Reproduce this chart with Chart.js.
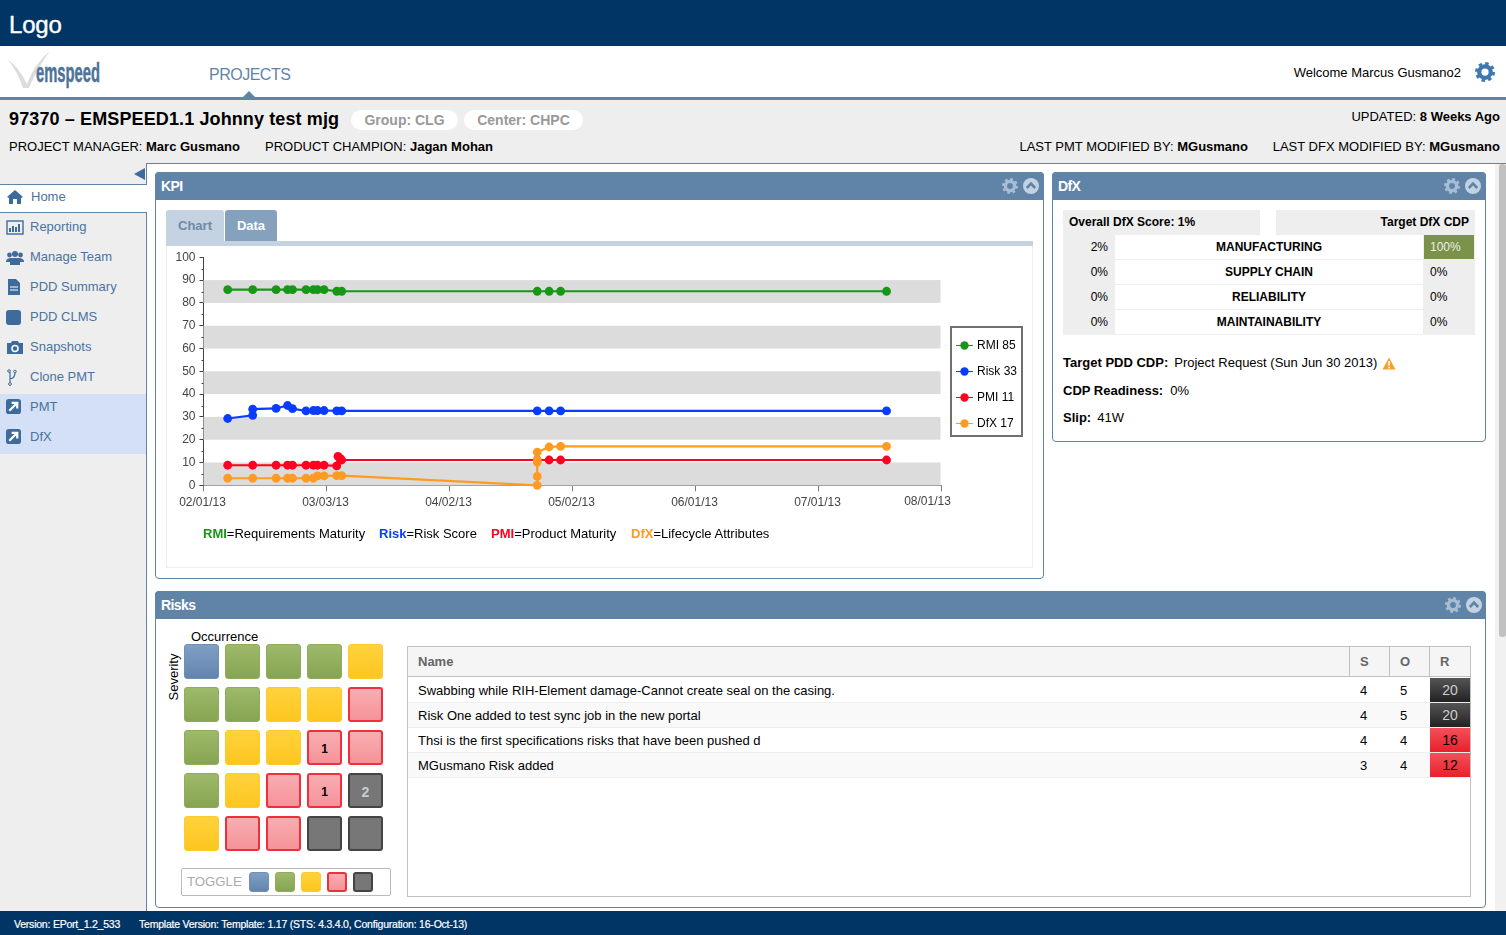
<!DOCTYPE html>
<html>
<head>
<meta charset="utf-8">
<title>KPI</title>
<script src="https://cdn.jsdelivr.net/npm/chart.js@4"></script>
<style>
html, body { margin: 0; padding: 0; width: 1506px; height: 935px; overflow: hidden; background: #fff; font-family: "Liberation Sans", Arial, sans-serif; font-size: 13px; color: #000; }
.abs, .t { position: absolute; }
.t { white-space: nowrap; line-height: 16px; }
b { font-weight: bold; }
.panel { position: absolute; border: 1px solid #5f84a8; border-radius: 4px; background: #fff; box-sizing: border-box; }
.phead { position: absolute; left: -1px; right: -1px; top: -1px; height: 28px; background: #5f84a8; border-radius: 4px 4px 0 0; color: #fff; font-weight: bold; font-size: 14px; line-height: 28px; padding-left: 6px; letter-spacing: -.6px; }
.side { color: #4a73a0; font-size: 13px; left: 30px; }
.cell { position: absolute; width: 35px; height: 35px; box-sizing: border-box; border-radius: 3px; text-align: center; font-weight: bold; font-size: 12px; line-height: 35px; }
.c1 { background: linear-gradient(#7f9fc4, #6385ad); border: 1px solid #6f90b6; }
.c2 { background: linear-gradient(#9db96a, #86a552); border: 1px solid #8fac5a; }
.c3 { background: linear-gradient(#ffd23c, #fdc620); border: 1px solid #fdcb2c; }
.c4 { background: linear-gradient(#f8aeb2, #f59398); border: 2px solid #ee2f3c; line-height: 34px; }
.c5 { background: #777; border: 2px solid #444; color: #ccc; font-size: 14px; line-height: 34px; }
.row { position: absolute; left: 408px; width: 1062px; height: 25px; box-sizing: border-box; border-bottom: 1px solid #eee; }
.rcell { position: absolute; left: 1430px; width: 40px; height: 24px; text-align: center; line-height: 25px; font-size: 14px; }
.gear { position: absolute; width: 16px; height: 16px; }
</style>
</head>
<body>
<svg width="0" height="0" style="position:absolute">
  <symbol id="gear" viewBox="0 0 16 16"><circle cx="8" cy="8" r="4.6" fill="none" stroke="currentColor" stroke-width="3.4"/><circle cx="8" cy="8" r="6.8" fill="none" stroke="currentColor" stroke-width="2.4" stroke-dasharray="2.7 2.64"/></symbol>
  <symbol id="up" viewBox="0 0 16 16"><circle cx="8" cy="8" r="8" fill="currentColor"/><path d="M3.8 10 L8 5.6 L12.2 10" fill="none" stroke="#5f84a8" stroke-width="2.6"/></symbol>
  <symbol id="ext" viewBox="0 0 16 16"><rect width="16" height="16" rx="3" fill="#3d6b9c"/><path d="M3.5 12.5 L11 5 M6 4 H12 V10" fill="none" stroke="#fff" stroke-width="2.4"/></symbol>
</svg>

<!-- top bars -->
<div class="abs" style="left:0;top:0;width:1506px;height:46px;background:#003566"></div>
<div class="t" style="left:9px;top:11px;font-size:24px;line-height:28px;color:#fff;letter-spacing:-.2px;-webkit-text-stroke:.4px #fff">Logo</div>
<svg class="abs" style="left:6px;top:48px" width="46" height="44">
  <path d="M2 12 Q12 18 21 36 Q28 16 44 3 Q30 22 23 40 L17 40 Q12 24 2 12 Z" fill="#dcdcdc"/>
</svg>
<div class="t" style="left:36px;top:58px;font-size:27px;line-height:30px;font-weight:bold;color:#4f7299;-webkit-text-stroke:.5px #4f7299;transform-origin:0 0;transform:scaleX(.547)">emspeed</div>
<div class="t" style="left:209px;top:66px;font-size:16px;line-height:18px;color:#5f84a8;letter-spacing:-.5px">PROJECTS</div>
<div class="t" style="right:45px;top:65px">Welcome Marcus Gusmano2</div>
<svg class="gear" style="left:1475px;top:62px;width:20px;height:20px;color:#3d78b4"><use href="#gear"/></svg>
<div class="abs" style="left:0;top:97px;width:1506px;height:3px;background:#5f84a8"></div>
<div class="abs" style="left:243px;top:91px;width:0;height:0;border-left:6px solid transparent;border-right:6px solid transparent;border-bottom:6px solid #5f84a8"></div>

<!-- project header -->
<div class="abs" style="left:0;top:100px;width:1506px;height:64px;background:#eee"></div>
<div class="t" style="left:9px;top:108px;font-size:18px;line-height:22px;font-weight:bold;letter-spacing:.12px">97370 – EMSPEED1.1 Johnny test mjg</div>
<div class="t" style="left:351px;top:110px;width:107px;height:20px;background:#fff;border-radius:10px;text-align:center;font-size:14px;line-height:20px;font-weight:bold;color:#999">Group: CLG</div>
<div class="t" style="left:464px;top:110px;width:119px;height:20px;background:#fff;border-radius:10px;text-align:center;font-size:14px;line-height:20px;font-weight:bold;color:#999">Center: CHPC</div>
<div class="t" style="left:9px;top:139px">PROJECT MANAGER: <b>Marc Gusmano</b></div>
<div class="t" style="left:265px;top:139px">PRODUCT CHAMPION: <b>Jagan Mohan</b></div>
<div class="t" style="right:6px;top:109px">UPDATED: <b>8 Weeks Ago</b></div>
<div class="t" style="right:258px;top:139px">LAST PMT MODIFIED BY: <b>MGusmano</b></div>
<div class="t" style="right:6px;top:139px">LAST DFX MODIFIED BY: <b>MGusmano</b></div>

<!-- sidebar -->
<div class="abs" style="left:0;top:164px;width:146px;height:747px;background:#eee;border-right:1px solid #5f84a8"></div>
<div class="abs" style="left:146px;top:163px;width:1360px;height:1px;background:#5f84a8"></div>
<div class="abs" style="left:134px;top:168px;width:0;height:0;border-top:6px solid transparent;border-bottom:6px solid transparent;border-right:11px solid #3d6b9c"></div>
<div class="abs" style="left:0;top:184px;width:147px;height:29px;background:#fff;border-top:1px solid #5f84a8;border-bottom:1px solid #5f84a8;box-sizing:border-box"></div>
<div class="abs" style="left:0;top:394px;width:146px;height:60px;background:#d3e0f5"></div>
<div id="sideNav"></div>

<!-- scrollbar -->
<div class="abs" style="left:1495px;top:164px;width:11px;height:747px;background:#f1f1f1"></div>
<div class="abs" style="left:1499px;top:164px;width:7px;height:473px;background:#c1c1c1;border-radius:3px"></div>

<!-- KPI panel -->
<div class="panel" style="left:155px;top:172px;width:889px;height:407px"><div class="phead">KPI</div></div>
<svg class="gear" style="left:1002px;top:178px;color:#a9bdd2"><use href="#gear"/></svg>
<svg class="gear" style="left:1023px;top:178px;color:#c3d1e0"><use href="#up"/></svg>
<div class="t" style="left:166px;top:210px;width:58px;height:31px;background:#c5d2e1;border-radius:3px 3px 0 0;text-align:center;line-height:31px;font-weight:bold;color:#6d8aa8">Chart</div>
<div class="t" style="left:225px;top:210px;width:52px;height:31px;background:#84a1bd;border-radius:3px 3px 0 0;text-align:center;line-height:31px;font-weight:bold;color:#fff">Data</div>
<div class="abs" style="left:166px;top:241px;width:867px;height:5px;background:#c5d2e1"></div>
<div class="abs" style="left:166px;top:246px;width:867px;height:322px;border:1px solid #eee;border-top:0;box-sizing:border-box"></div>
<canvas id="kpiChart" class="abs" style="left:166px;top:246px" width="866" height="320"></canvas>
<div class="t" style="left:203px;top:526px"><b style="color:#169716">RMI</b>=Requirements Maturity</div>
<div class="t" style="left:379px;top:526px"><b style="color:#0a3cff">Risk</b>=Risk Score</div>
<div class="t" style="left:491px;top:526px"><b style="color:#ff0020">PMI</b>=Product Maturity</div>
<div class="t" style="left:631px;top:526px"><b style="color:#ff9a22">DfX</b>=Lifecycle Attributes</div>

<!-- DfX panel -->
<div class="panel" style="left:1052px;top:172px;width:434px;height:270px"><div class="phead">DfX</div></div>
<svg class="gear" style="left:1444px;top:178px;color:#a9bdd2"><use href="#gear"/></svg>
<svg class="gear" style="left:1465px;top:178px;color:#c3d1e0"><use href="#up"/></svg>
<div class="t" style="left:1063px;top:210px;width:191px;height:25px;line-height:25px;background:#eee;padding-left:6px;font-size:12px;font-weight:bold">Overall DfX Score: 1%</div>
<div class="t" style="left:1276px;top:210px;width:193px;height:25px;line-height:25px;background:#eee;padding-right:6px;text-align:right;font-size:12px;font-weight:bold">Target DfX CDP</div>
<div id="dfxRows"></div>
<div class="t" style="left:1063px;top:355px"><b>Target PDD CDP:</b><span style="margin-left:6px">Project Request (Sun Jun 30 2013)</span></div>
<svg class="abs" style="left:1382px;top:357px" width="14" height="13"><path d="M7 0.5 L13.5 12.5 H0.5 Z" fill="#f9a02c"/><path d="M7 4 V8.6 M7 9.8 V11.4" stroke="#fff" stroke-width="1.6"/></svg>
<div class="t" style="left:1063px;top:383px"><b>CDP Readiness:</b><span style="margin-left:7px">0%</span></div>
<div class="t" style="left:1063px;top:410px"><b>Slip:</b><span style="margin-left:6px">41W</span></div>

<!-- Risks panel -->
<div class="panel" style="left:155px;top:591px;width:1331px;height:317px"><div class="phead">Risks</div></div>
<svg class="gear" style="left:1445px;top:597px;color:#a9bdd2"><use href="#gear"/></svg>
<svg class="gear" style="left:1466px;top:597px;color:#c3d1e0"><use href="#up"/></svg>
<div class="t" style="left:191px;top:629px">Occurrence</div>
<div class="t" style="left:146px;top:669px;width:56px;text-align:center;transform:rotate(-90deg)">Severity</div>
<div id="matrix"></div>
<div class="abs" style="left:181px;top:868px;width:210px;height:28px;border:1px solid #bbb;border-radius:2px;box-sizing:border-box"></div>
<div class="t" style="left:187px;top:874px;font-size:13.2px;color:#aaa">TOGGLE</div>
<div id="toggle"></div>

<div class="abs" style="left:407px;top:646px;width:1064px;height:251px;border:1px solid #c0c0c0;box-sizing:border-box"></div>
<div class="abs" style="left:408px;top:647px;width:1062px;height:30px;background:#f5f5f5;border-bottom:1px solid #c0c0c0;box-sizing:border-box"></div>
<div class="abs" style="left:1349px;top:647px;width:1px;height:30px;background:#c0c0c0"></div>
<div class="abs" style="left:1389px;top:647px;width:1px;height:30px;background:#c0c0c0"></div>
<div class="abs" style="left:1429px;top:647px;width:1px;height:30px;background:#c0c0c0"></div>
<div class="t" style="left:418px;top:654px;font-weight:bold;color:#666">Name</div>
<div class="t" style="left:1360px;top:654px;font-weight:bold;color:#666">S</div>
<div class="t" style="left:1400px;top:654px;font-weight:bold;color:#666">O</div>
<div class="t" style="left:1440px;top:654px;font-weight:bold;color:#666">R</div>
<div id="riskRows"></div>

<!-- footer -->
<div class="abs" style="left:0;top:911px;width:1506px;height:24px;background:#003566"></div>
<div class="t" style="left:14px;top:917px;font-size:10.5px;line-height:14px;color:#fff;letter-spacing:-.22px;-webkit-text-stroke:.2px #fff">Version: EPort_1.2_533</div>
<div class="t" style="left:139px;top:917px;font-size:10.5px;line-height:14px;color:#fff;letter-spacing:-.22px;-webkit-text-stroke:.2px #fff">Template Version: Template: 1.17 (STS: 4.3.4.0, Configuration: 16-Oct-13)</div>

<script>
// page furniture
const sideItems = ['Reporting', 'Manage Team', 'PDD Summary', 'PDD CLMS', 'Snapshots', 'Clone PMT', 'PMT', 'DfX']
const icons = {
    'Reporting': '<rect x="1" y="2" width="16" height="13" fill="none" stroke="#3d6b9c" stroke-width="1.4"/><path d="M4 13V9M7 13V7M10 13V8M13 13V5" stroke="#3d6b9c" stroke-width="2"/>',
    'Manage Team': '<circle cx="9" cy="5" r="3" fill="#3d6b9c"/><circle cx="3.5" cy="6" r="2.4" fill="#3d6b9c"/><circle cx="14.5" cy="6" r="2.4" fill="#3d6b9c"/><path d="M0 12Q1 9 5 9H13Q17 9 18 12V13H14V16H4V13H0Z" fill="#3d6b9c"/>',
    'PDD Summary': '<path d="M2 0H10L14 4V16H2Z" fill="#3d6b9c"/><path d="M4 8H12M4 11H12" stroke="#fff"/>',
    'PDD CLMS': '<rect x="0" y="1" width="15" height="15" rx="3" fill="#3d6b9c"/>',
    'Snapshots': '<path d="M1 4H5L6 2H12L13 4H17V15H1Z" fill="#3d6b9c"/><circle cx="9" cy="9.5" r="3" fill="none" stroke="#fff" stroke-width="1.6"/>',
    'Clone PMT': '<circle cx="4" cy="15" r="1.4" fill="none" stroke="#3d6b9c"/><path d="M4 13.5V3M4 10Q9 9 9 4" fill="none" stroke="#3d6b9c" stroke-width="1.2"/><circle cx="3" cy="2" r="1.3" fill="none" stroke="#3d6b9c"/><circle cx="9" cy="2.5" r="1.3" fill="none" stroke="#3d6b9c"/>',
    'PMT': '<use href="#ext" width="15" height="15"/>',
    'DfX': '<use href="#ext" width="15" height="15"/>'
}
let navHtml = '<svg class="abs" style="left:7px;top:190px" width="16" height="14"><path d="M0 7L8 0L16 7L14 8V14H10V9H6V14H2V8Z" fill="#3d6b9c"/></svg><div class="t side" style="left:31px;top:189px">Home</div>'
sideItems.forEach((name, i) => {
    const y = 219 + i * 30
    navHtml += `<svg class="abs" style="left:6px;top:${y}px" width="18" height="17">${icons[name]}</svg><div class="t side" style="top:${y}px">${name}</div>`
})
document.getElementById('sideNav').innerHTML = navHtml

const dfxRows = [
    ['2%', 'MANUFACTURING', '100%'],
    ['0%', 'SUPPLY CHAIN', '0%'],
    ['0%', 'RELIABILITY', '0%'],
    ['0%', 'MAINTAINABILITY', '0%']
]
let dfxHtml = ''
dfxRows.forEach((r, i) => {
    const y = 235 + i * 25
    const green = r[2] === '100%'
    dfxHtml += `<div class="abs" style="left:1063px;top:${y}px;width:412px;height:25px;background:#eee"></div>
    <div class="abs" style="left:1115px;top:${y}px;width:308px;height:24px;background:#fff"></div>
    <div class="t" style="left:1063px;top:${y + 4}px;width:45px;text-align:right;font-size:12px">${r[0]}</div>
    <div class="t" style="left:1115px;top:${y + 4}px;width:308px;text-align:center;font-size:12px;font-weight:bold">${r[1]}</div>
    ${green ? `<div class="abs" style="left:1424px;top:${y}px;width:50px;height:24px;background:#7a9249"></div>` : ''}
    <div class="t" style="left:1430px;top:${y + 4}px;font-size:12px;color:${green ? '#eee' : '#000'}">${r[2]}</div>`
})
document.getElementById('dfxRows').innerHTML = dfxHtml

const matrix = [
    [1, 2, 2, 2, 3],
    [2, 2, 3, 3, 4],
    [2, 3, 3, 4, 4],
    [2, 3, 4, 4, 5],
    [3, 4, 4, 5, 5]
]
const matrixCounts = { '2,3': 1, '3,3': 1, '3,4': 2 }
let matrixHtml = ''
matrix.forEach((row, r) => row.forEach((c, col) => {
    matrixHtml += `<div class="cell c${c}" style="left:${184 + col * 41}px;top:${644 + r * 43}px">${matrixCounts[r + ',' + col] || ''}</div>`
}))
document.getElementById('matrix').innerHTML = matrixHtml

let toggleHtml = ''
for (let i = 0; i < 5; i++) {
    toggleHtml += `<div class="cell c${i + 1}" style="left:${249 + i * 26}px;top:872px;width:20px;height:20px"></div>`
}
document.getElementById('toggle').innerHTML = toggleHtml

const risks = [
    ['Swabbing while RIH-Element damage-Cannot create seal on the casing.', 4, 5, 20],
    ['Risk One added to test sync job in the new portal', 4, 5, 20],
    ['Thsi is the first specifications risks that have been pushed d', 4, 4, 16],
    ['MGusmano Risk added', 3, 4, 12]
]
let riskHtml = ''
risks.forEach((r, i) => {
    const y = 678 + i * 25
    const dark = r[3] >= 20
    riskHtml += `<div class="row" style="top:${y}px;background:${i % 2 ? '#f9f9f9' : '#fff'}"></div>
    <div class="t" style="left:418px;top:${y + 5}px">${r[0]}</div>
    <div class="t" style="left:1360px;top:${y + 5}px">${r[1]}</div>
    <div class="t" style="left:1400px;top:${y + 5}px">${r[2]}</div>
    <div class="rcell" style="top:${y}px;background:linear-gradient(${dark ? '#555,#222' : '#f4505a,#e8202a'});color:${dark ? '#ccc' : '#000'}">${r[3]}</div>`
})
document.getElementById('riskRows').innerHTML = riskHtml

// KPI chart, x is days since 02/01/13
const rmi = [[5.9, 85.8], [12, 85.8], [17.7, 85.8], [20.5, 85.8], [21.7, 85.8], [25, 85.8], [26.8, 85.8], [27.8, 85.8], [29.4, 85.8], [32.5, 85.1], [33.7, 85.1], [81.4, 85.1], [84.3, 85.1], [87.1, 85.1], [166.6, 85.1]]
const risk = [[5.9, 29.3], [12, 30.7], [12, 33.4], [17.7, 33.7], [20.5, 35], [21.7, 33.6], [25, 32.6], [26.8, 32.8], [27.8, 32.8], [29.4, 32.8], [32.5, 32.6], [33.7, 32.6], [81.4, 32.6], [84.3, 32.6], [87.1, 32.6], [166.6, 32.6]]
const pmi = [[5.9, 8.8], [12, 8.8], [17.7, 8.8], [20.5, 8.8], [21.7, 8.8], [25, 8.8], [26.8, 8.8], [27.8, 8.8], [29.4, 8.8], [32.5, 8.5], [32.8, 12.7], [33.4, 11.7], [33.7, 11.1], [81.4, 11.1], [84.3, 11.1], [87.1, 11.1], [166.6, 11.1]]
const dfx = [[5.9, 3.1], [12, 3.1], [17.7, 3.1], [20.5, 3.1], [21.7, 3.1], [25, 3.1], [26.8, 3.1], [27.8, 4.1], [29.4, 4.1], [32.5, 4.2], [33.7, 4.2], [81.4, 0], [81.4, 3.9], [81.4, 10.2], [81.4, 11], [81.4, 14.5], [84.3, 16.8], [87.1, 17.1], [166.6, 17.1]]

const toPoints = (list) => list.map(p => ({ x: p[0], y: p[1] }))
const xLabels = ['02/01/13', '03/03/13', '04/02/13', '05/02/13', '06/01/13', '07/01/13', '08/01/13']

Chart.defaults.font.family = '"Liberation Sans", Arial, sans-serif'
Chart.defaults.font.size = 12

const kpiFurniture = {
    id: 'kpiFurniture',
    beforeDatasetsDraw(chart) {
        const { ctx, scales: { x, y } } = chart
        ctx.save()
        ctx.fillStyle = '#dcdcdc'
        for (let v = 0; v < 100; v += 20) {
            const top = y.getPixelForValue(v + 10)
            ctx.fillRect(x.left, top, x.right - 1 - x.left, y.getPixelForValue(v) - top)
        }
        ctx.restore()
    },
    afterDraw(chart) {
        const { ctx, scales: { x, y } } = chart
        ctx.save()
        // minor ticks on the y axis
        ctx.strokeStyle = '#444'
        ctx.beginPath()
        for (let v = 5; v < 100; v += 10) {
            const py = Math.round(y.getPixelForValue(v)) + 0.5
            ctx.moveTo(x.left - 2, py)
            ctx.lineTo(x.left, py)
        }
        ctx.stroke()
        // the last date sits left of its tick
        ctx.fillStyle = '#444'
        ctx.font = Chart.defaults.font.size + 'px ' + Chart.defaults.font.family
        ctx.textAlign = 'center'
        ctx.textBaseline = 'middle'
        ctx.fillText(xLabels[6], x.getPixelForValue(180) - 14, 256)
        // legend box
        ctx.strokeStyle = '#707070'
        ctx.lineWidth = 2
        ctx.fillStyle = '#fff'
        ctx.fillRect(785, 81, 71, 109)
        ctx.strokeRect(785, 81, 71, 109)
        ctx.textAlign = 'left'
        chart.data.datasets.forEach((ds, i) => {
            const ly = 99.5 + i * 26
            ctx.strokeStyle = ds.borderColor
            ctx.lineWidth = 1
            ctx.beginPath()
            ctx.moveTo(790, ly)
            ctx.lineTo(807, ly)
            ctx.stroke()
            ctx.fillStyle = ds.borderColor
            ctx.beginPath()
            ctx.arc(798.5, ly, 4.2, 0, Math.PI * 2)
            ctx.fill()
            ctx.fillStyle = '#000'
            ctx.fillText(ds.label, 811, ly)
        })
        ctx.restore()
    }
}

const series = (label, color, list, order) => ({
    label: label,
    data: toPoints(list),
    borderColor: color,
    backgroundColor: color,
    borderWidth: 2.2,
    pointRadius: 4.4,
    pointBorderWidth: 0,
    lineTension: 0,
    fill: false,
    clip: false,
    order: order
})

const kpiChart = new Chart(document.getElementById('kpiChart').getContext('2d'), {
    type: 'line',
    data: {
        datasets: [
            series('RMI 85', '#169716', rmi, 4),
            series('Risk 33', '#0a3cff', risk, 3),
            series('PMI 11', '#ff0020', pmi, 2),
            series('DfX 17', '#ff9a22', dfx, 1)
        ]
    },
    plugins: [kpiFurniture],
    options: {
        responsive: false,
        animation: false,
        layout: { autoPadding: false, padding: { left: 0, top: 11.3, right: 90.5, bottom: 0 } },
        plugins: { legend: { display: false }, title: { display: false }, tooltip: { enabled: false } },
        scales: {
            x: {
                type: 'linear',
                min: 0,
                max: 180,
                afterFit: (s) => { s.height = 80.7 },
                afterBuildTicks: (s) => { s.ticks = xLabels.map((l, i) => ({ value: i * 30 })) },
                grid: { drawOnChartArea: false, tickLength: 6, tickColor: '#777' },
                border: { color: '#888' },
                ticks: {
                    color: '#444',
                    padding: 4,
                    labelOffset: -1,
                    maxRotation: 0,
                    autoSkip: false,
                    callback: (v) => v === 180 ? '' : xLabels[v / 30]
                }
            },
            y: {
                min: 0,
                max: 100,
                afterFit: (s) => { s.width = 37.5 },
                grid: { drawOnChartArea: false, tickLength: 4, tickColor: '#444' },
                border: { color: '#444' },
                ticks: { color: '#444', stepSize: 10, padding: 4 }
            }
        }
    }
})
</script>
</body>
</html>
